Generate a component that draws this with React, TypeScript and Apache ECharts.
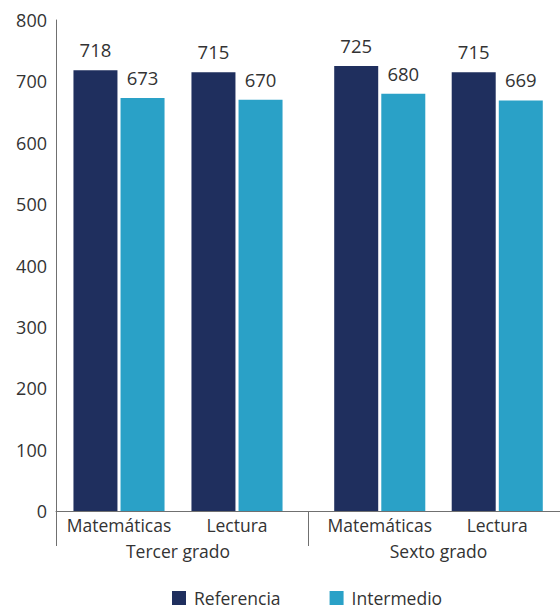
import React, { useEffect, useRef } from "react";
import * as echarts from "echarts";

const subjects = ["Matemáticas", "Lectura"];
const grades = ["Tercer grado", "Sexto grado"];
const referenciaTercer = [718, 715];
const intermedioTercer = [673, 670];
const referenciaSexto = [725, 715];
const intermedioSexto = [680, 669];
const yTicks = { min: 0, max: 800, interval: 100 };

const FONT = "'Open Sans', sans-serif";
const DARK = "#1F2F5E";
const LIGHT = "#2AA1C7";
const TEXT = "#333333";
const AXIS = "#707070";

export default function App() {
  const ref = useRef<HTMLDivElement>(null);
  useEffect(() => {
    document.body.style.margin = "0";
    const chart = echarts.init(ref.current!, null, { renderer: "svg" });
    const label = {
      show: true,
      position: "top" as const,
      distance: 11,
      fontSize: 18.5,
      fontFamily: FONT,
      color: TEXT,
    };
    const barBase = {
      type: "bar" as const,
      barWidth: 44,
      barGap: "7%",
      label,
    };
    const subAxis = (gridIndex: number, name: string) => ({
      type: "category" as const,
      gridIndex,
      data: subjects,
      position: "bottom" as const,
      axisLine: { show: false },
      axisTick: { show: false },
      axisLabel: { interval: 0, fontSize: 17.5, fontFamily: FONT, color: TEXT, margin: 5 },
      name,
      nameLocation: "middle" as const,
      nameGap: 31,
      nameTextStyle: { fontSize: 17.5, fontFamily: FONT, color: TEXT, verticalAlign: "top" as const },
    });
    const hiddenY = (gridIndex: number) => ({
      type: "value" as const,
      gridIndex,
      ...yTicks,
      show: false,
      splitLine: { show: false },
    });
    chart.setOption({
      animation: false,
      textStyle: { fontFamily: FONT },
      grid: [
        { left: 56, right: -1, top: 20, bottom: 100, containLabel: false },
        { left: 60, width: 236, top: 20, bottom: 100, containLabel: false },
        { left: 321, width: 235, top: 20, bottom: 100, containLabel: false },
      ],
      xAxis: [
        {
          type: "category",
          gridIndex: 0,
          data: grades,
          position: "bottom",
          axisLine: { show: true, lineStyle: { color: AXIS, width: 1 } },
          axisTick: { show: true, length: 35, lineStyle: { color: AXIS, width: 1 } },
          axisLabel: { show: false },
        },
        subAxis(1, grades[0]),
        subAxis(2, grades[1]),
      ],
      yAxis: [
        {
          type: "value",
          gridIndex: 0,
          ...yTicks,
          axisLine: { show: true, lineStyle: { color: AXIS, width: 1 } },
          axisTick: { show: false },
          splitLine: { show: false },
          axisLabel: { fontSize: 18, fontFamily: FONT, color: TEXT, margin: 9 },
        },
        hiddenY(1),
        hiddenY(2),
      ],
      legend: {
        data: ["Referencia", "Intermedio"],
        left: 172,
        top: 589,
        padding: 0,
        icon: "rect",
        itemWidth: 14,
        itemHeight: 14,
        itemGap: 49,
        textStyle: { fontSize: 17.5, lineHeight: 16, fontFamily: FONT, color: TEXT, padding: [0, 0, 0, 3] },
      },
      series: [
        { ...barBase, name: "Referencia", xAxisIndex: 1, yAxisIndex: 1, data: referenciaTercer, itemStyle: { color: DARK } },
        { ...barBase, name: "Intermedio", xAxisIndex: 1, yAxisIndex: 1, data: intermedioTercer, itemStyle: { color: LIGHT } },
        { ...barBase, name: "Referencia", xAxisIndex: 2, yAxisIndex: 2, data: referenciaSexto, itemStyle: { color: DARK } },
        { ...barBase, name: "Intermedio", xAxisIndex: 2, yAxisIndex: 2, data: intermedioSexto, itemStyle: { color: LIGHT } },
      ],
    });
    return () => chart.dispose();
  }, []);
  return <div ref={ref} style={{ width: 560, height: 611 }} />;
}
